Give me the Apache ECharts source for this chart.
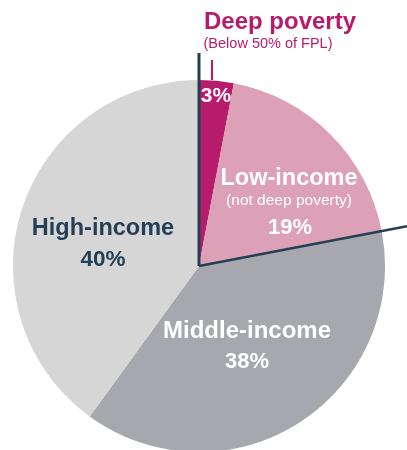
<!DOCTYPE html>
<html>
<head>
<meta charset="utf-8">
<script src="https://cdn.jsdelivr.net/npm/echarts@6/dist/echarts.min.js"></script>
<style>
html,body{margin:0;padding:0;background:#fff;}
#c{width:407px;height:450px;}
</style>
</head>
<body>
<div id="c"></div>
<script>
var categories = ['Deep poverty', 'Low-income', 'Middle-income', 'High-income'];
var values = [3, 19, 38, 40];
var colors = ['#b71c6c', '#dca1b6', '#a6a8ad', '#d6d6d6'];

var chart = echarts.init(document.getElementById('c'), null, {renderer: 'canvas'});
var cx = 199, cy = 266, R = 186;
var total = values.reduce(function(a, b){ return a + b; }, 0);
var navy = '#243f55';
var FONT = '"Liberation Sans", Arial, sans-serif';

// angle of boundary between Low-income and Middle-income (clockwise from top)
var cum = (values[0] + values[1]) / total * 2 * Math.PI;
var dirX = Math.sin(cum), dirY = -Math.cos(cum);
var lineLen = (407 - cx) / dirX;

function txt(x, y, s, size, weight, color) {
  return {type: 'text', x: x, y: y, z: 10,
    style: {text: s, fill: color, font: weight + ' ' + size + 'px ' + FONT, textAlign: 'center', textVerticalAlign: 'middle'}};
}

chart.setOption({
  animation: false,
  series: [{
    type: 'pie',
    center: [cx, cy],
    radius: [0, R],
    startAngle: 90,
    clockwise: true,
    label: {show: false},
    labelLine: {show: false},
    itemStyle: {borderWidth: 0},
    emphasis: {disabled: true},
    data: categories.map(function(c, i){ return {name: c, value: values[i], itemStyle: {color: colors[i]}}; })
  }],
  graphic: [
    {type: 'line', z: 5, shape: {x1: cx, y1: cy, x2: cx, y2: 53}, style: {stroke: navy, lineWidth: 3}},
    {type: 'line', z: 5, shape: {x1: cx, y1: cy, x2: cx + dirX * lineLen, y2: cy + dirY * lineLen}, style: {stroke: navy, lineWidth: 2.5}},
    {type: 'line', z: 5, shape: {x1: 212, y1: 60, x2: 212, y2: 80}, style: {stroke: '#b71c6c', lineWidth: 2}},
    txt(280, 22, 'Deep poverty', 24, 'bold', '#b71c6c'),
    txt(268, 44, '(Below 50% of FPL)', 14.5, 'normal', '#b71c6c'),
    txt(216, 96, values[0] + '%', 21, 'bold', '#ffffff'),
    txt(289, 179, 'Low-income', 23.5, 'bold', '#ffffff'),
    txt(289, 201, '(not deep poverty)', 15.5, 'normal', '#ffffff'),
    txt(290, 228, values[1] + '%', 22, 'bold', '#ffffff'),
    txt(247, 331, 'Middle-income', 24, 'bold', '#ffffff'),
    txt(247, 362, values[2] + '%', 22, 'bold', '#ffffff'),
    txt(103, 229, 'High-income', 23.5, 'bold', navy),
    txt(103, 260, values[3] + '%', 22.5, 'bold', navy)
  ]
});
</script>
</body>
</html>
